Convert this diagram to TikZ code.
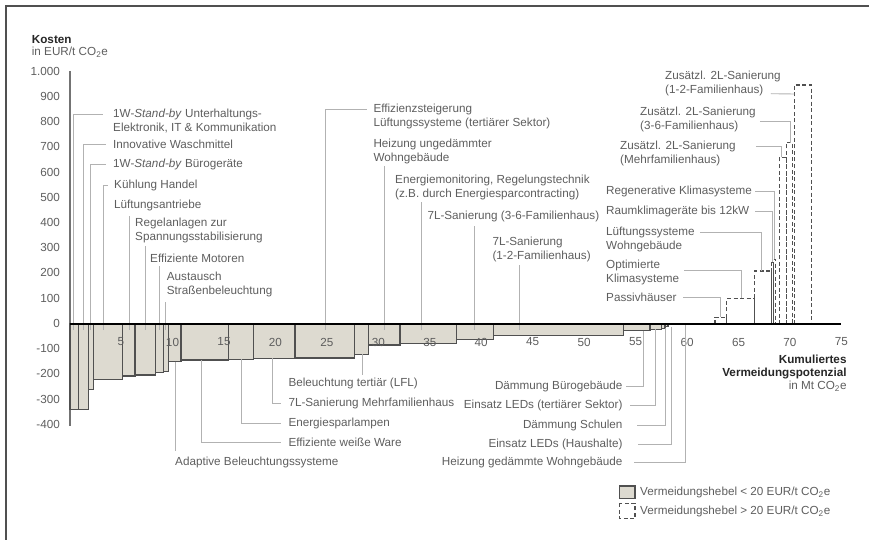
\documentclass[tikz,border=0pt]{standalone}
\usepackage{fontspec}
\setmainfont{Liberation Sans}
\usetikzlibrary{positioning}

\definecolor{barfill}{HTML}{DDDAD0}
\definecolor{labelgray}{HTML}{5E5E5E}
\definecolor{leadgray}{HTML}{B2B2B2}
\definecolor{edgegray}{HTML}{505050}

\tikzset{
  lbl/.style={inner sep=0pt, text=labelgray, font=\fontsize{11.7}{14}\selectfont, align=left},
  ticklbl/.style={inner sep=0pt, text=labelgray, font=\fontsize{11.7}{14}\selectfont},
  lead/.style={leadgray, line width=0.9pt},
  costbar/.style={draw=edgegray, line width=1.1pt, fill=barfill},
  dashbar/.style={draw=edgegray, line width=1.1pt, dash pattern=on 4pt off 2.5pt},
}

\begin{document}
\begin{tikzpicture}[x=1pt, y=-1pt]
\useasboundingbox (0,0) rectangle (869,540);
\draw[edgegray, line width=1.2pt] (6,540) -- (6,6) -- (869,6);

% Kostenachse
\node[lbl, anchor=west, font=\fontsize{11.7}{12.7}\selectfont] (yTitle) at (31.7,46.3) {\textcolor{black!85}{\textbf{Kosten}}\\in EUR/t CO\textsubscript{2}e};
\node[ticklbl, anchor=east] (yt1000) at (60,71) {1.000};
\node[ticklbl, anchor=east] (yt900) at (60,96.2) {900};
\node[ticklbl, anchor=east] (yt800) at (60,121.5) {800};
\node[ticklbl, anchor=east] (yt700) at (60,146.7) {700};
\node[ticklbl, anchor=east] (yt600) at (60,172) {600};
\node[ticklbl, anchor=east] (yt500) at (60,197.2) {500};
\node[ticklbl, anchor=east] (yt400) at (60,222.4) {400};
\node[ticklbl, anchor=east] (yt300) at (60,247.7) {300};
\node[ticklbl, anchor=east] (yt200) at (60,272.9) {200};
\node[ticklbl, anchor=east] (yt100) at (60,298.2) {100};
\node[ticklbl, anchor=east] (yt0) at (60,323.4) {0};
\node[ticklbl, anchor=east] (ytm100) at (60,348.6) {-100};
\node[ticklbl, anchor=east] (ytm200) at (60,373.9) {-200};
\node[ticklbl, anchor=east] (ytm300) at (60,399.1) {-300};
\node[ticklbl, anchor=east] (ytm400) at (60,424.4) {-400};
\draw[black!55, line width=1.6pt] (70,71) -- (70,426);

% Hebel < 20 EUR/t
\draw[costbar] (70,324) rectangle (78.3,409.3);
\draw[costbar] (78.3,324) rectangle (88.3,409.3);
\draw[costbar] (88.3,324) rectangle (93.3,389.3);
\draw[costbar] (93.3,324) rectangle (122.7,379.3);
\draw[costbar] (122.7,324) rectangle (135,376);
\draw[costbar] (135,324) rectangle (155.7,375);
\draw[costbar] (155.7,324) rectangle (163.3,372.7);
\draw[costbar] (163.3,324) rectangle (168.3,371.7);
\draw[costbar] (168.3,324) rectangle (181,361.7);
\draw[costbar] (181,324) rectangle (228.3,360);
\draw[costbar] (228.3,324) rectangle (253.3,359.3);
\draw[costbar] (253.3,324) rectangle (295,358.3);
\draw[costbar] (295,324) rectangle (354.3,358);
\draw[costbar] (354.3,324) rectangle (368.3,354.3);
\draw[costbar] (368.3,324) rectangle (400,345);
\draw[costbar] (400,324) rectangle (456.7,343.3);
\draw[costbar] (456.7,324) rectangle (493.3,339.3);
\draw[costbar] (493.3,324) rectangle (623.3,335.7);
\draw[costbar] (623.3,324) rectangle (650,330.5);
\draw[costbar] (650,324) rectangle (661.7,329.3);
\draw[costbar] (661.7,324) rectangle (665,328.3);
\draw[costbar] (665,324) rectangle (668,326.5);

% Hebel > 20 EUR/t
\draw[dashbar] (715,324) rectangle (726.7,317.3);
\draw[dashbar] (726.7,324) rectangle (754.3,298.3);
\draw[dashbar] (754.3,324) rectangle (771.7,271);
\draw[dashbar] (771.7,324) rectangle (773.3,262.3);
\draw[dashbar] (773.3,324) rectangle (775.7,259.3);
\draw[dashbar] (779.3,324) rectangle (786.7,157.3);
\draw[dashbar] (786.7,324) rectangle (792.7,142.7);
\draw[dashbar] (794.3,324) rectangle (811.7,85);

% Mengenachse
\node[ticklbl] (xt5) at (121,342) {5};
\node[ticklbl] (xt10) at (172.5,342) {10};
\node[ticklbl] (xt15) at (224,342) {15};
\node[ticklbl] (xt20) at (275.4,342) {20};
\node[ticklbl] (xt25) at (326.9,342) {25};
\node[ticklbl] (xt30) at (378.3,342) {30};
\node[ticklbl] (xt35) at (429.8,342) {35};
\node[ticklbl] (xt40) at (481.2,342) {40};
\node[ticklbl] (xt45) at (532.7,342) {45};
\node[ticklbl] (xt50) at (584.1,342) {50};
\node[ticklbl] (xt55) at (635.6,342) {55};
\node[ticklbl] (xt60) at (687,342) {60};
\node[ticklbl] (xt65) at (738.5,342) {65};
\node[ticklbl] (xt70) at (789.9,342) {70};
\node[ticklbl] (xt75) at (841.4,342) {75};
\node[lbl, anchor=east, align=right, font=\fontsize{11.7}{12.7}\selectfont] (xTitle) at (846.7,373.3) {\textcolor{black!85}{\textbf{Kumuliertes}}\\\textcolor{black!85}{\textbf{Vermeidungspotenzial}}\\in Mt CO\textsubscript{2}e};

% Beschriftungen oben links
\node[lbl, anchor=west] (lblStandbyUE) at (113,121.5) {1W-\textit{Stand-by} Unterhaltungs-\\Elektronik, IT \& Kommunikation};
\node[lbl, anchor=west] (lblWaschmittel) at (113,144.3) {Innovative Waschmittel};
\node[lbl, anchor=west] (lblStandbyBuero) at (113,164.3) {1W-\textit{Stand-by} Bürogeräte};
\node[lbl, anchor=west] (lblKuehlung) at (114,185) {Kühlung Handel};
\node[lbl, anchor=west] (lblLueftAntr) at (114,205) {Lüftungsantriebe};
\node[lbl, anchor=west] (lblRegelanl) at (135,230.8) {Regelanlagen zur\\Spannungsstabilisierung};
\node[lbl, anchor=west] (lblMotoren) at (150,258.3) {Effiziente Motoren};
\node[lbl, anchor=west] (lblStrasse) at (166.7,284.8) {Austausch\\Straßenbeleuchtung};
\coordinate (cStandbyUE) at (73.3,330);
\coordinate (cWaschmittel) at (83.3,330);
\coordinate (cStandbyBuero) at (90.7,330);
\coordinate (cKuehlung) at (103.3,330);
\coordinate (cLueftAntr) at (129.3,330);
\coordinate (cRegelanl) at (145.7,330);
\coordinate (cMotoren) at (159.3,330);
\coordinate (cStrasse) at (165.7,330);
\draw[lead] (cStandbyUE) |- ([xshift=-10pt,yshift=7pt]lblStandbyUE.west);
\draw[lead] (cWaschmittel) |- ([xshift=-7pt]lblWaschmittel.west);
\draw[lead] (cStandbyBuero) |- ([xshift=-7pt]lblStandbyBuero.west);
\draw[lead] (cKuehlung) |- ([xshift=-6pt]lblKuehlung.west);
\draw[lead, shorten >=5pt] (cLueftAntr) -- (cLueftAntr |- lblLueftAntr.south);
\draw[lead, shorten >=3pt] (cRegelanl) -- (cRegelanl |- lblRegelanl.south);
\draw[lead, shorten >=3pt] (cMotoren) -- (cMotoren |- lblMotoren.south);
\draw[lead, shorten >=5pt] (cStrasse) -- (cStrasse |- lblStrasse.south);

% Beschriftungen oben Mitte
\node[lbl, anchor=west] (lblEffLueft) at (373.3,116) {Effizienzsteigerung\\Lüftungssysteme (tertiärer Sektor)};
\node[lbl, anchor=west] (lblHeizUngedaemmt) at (373.3,151) {Heizung ungedämmter\\Wohngebäude};
\node[lbl, anchor=west] (lblMonitoring) at (395,187.7) {Energiemonitoring, Regelungstechnik\\(z.B. durch Energiesparcontracting)};
\node[lbl, anchor=west] (lblSan36) at (427.3,216) {7L-Sanierung (3-6-Familienhaus)};
\node[lbl, anchor=west] (lblSan12) at (492.3,249.2) {7L-Sanierung\\(1-2-Familienhaus)};
\coordinate (cEffLueft) at (325,330);
\coordinate (cHeizUngedaemmt) at (384,330);
\coordinate (cMonitoring) at (421.7,330);
\coordinate (cSan36) at (474.3,330);
\coordinate (cSan12) at (519,330);
\draw[lead] (cEffLueft) |- ([xshift=-6pt,yshift=7pt]lblEffLueft.west);
\draw[lead, shorten >=2pt] (cHeizUngedaemmt) -- (cHeizUngedaemmt |- lblHeizUngedaemmt.south);
\draw[lead, shorten >=2pt] (cMonitoring) -- (cMonitoring |- lblMonitoring.south);
\draw[lead, shorten >=4pt] (cSan36) -- (cSan36 |- lblSan36.south);
\draw[lead, shorten >=3pt] (cSan12) -- (cSan12 |- lblSan12.south);

% Beschriftungen unten
\node[lbl, anchor=west] (lblBelTert) at (288.3,383.3) {Beleuchtung tertiär (LFL)};
\node[lbl, anchor=west] (lblSanMFH) at (288.3,403.3) {7L-Sanierung Mehrfamilienhaus};
\node[lbl, anchor=west] (lblSparlampen) at (288.3,423.3) {Energiesparlampen};
\node[lbl, anchor=west] (lblWeisseWare) at (288.3,442.7) {Effiziente weiße Ware};
\node[lbl, anchor=west] (lblAdaptiv) at (175,462.7) {Adaptive Beleuchtungssysteme};
\coordinate (cBelTert) at (362.3,354.3);
\coordinate (cSanMFH) at (272.7,358.3);
\coordinate (cSparlampen) at (241.7,359.3);
\coordinate (cWeisseWare) at (201.7,360);
\coordinate (cAdaptiv) at (175,361.7);
\draw[lead, shorten >=3pt] (cBelTert) -- (cBelTert |- lblBelTert.north);
\draw[lead] (cSanMFH) |- ([xshift=-7pt]lblSanMFH.west);
\draw[lead] (cSparlampen) |- ([xshift=-7pt]lblSparlampen.west);
\draw[lead] (cWeisseWare) |- ([xshift=-7pt]lblWeisseWare.west);
\draw[lead, shorten >=6pt] (cAdaptiv) -- (cAdaptiv |- lblAdaptiv.north);

\node[lbl, anchor=east] (lblDaemmBuero) at (622.7,386.7) {Dämmung Bürogebäude};
\node[lbl, anchor=east] (lblLedTert) at (622.7,405.7) {Einsatz LEDs (tertiärer Sektor)};
\node[lbl, anchor=east] (lblDaemmSchule) at (622.7,425) {Dämmung Schulen};
\node[lbl, anchor=east] (lblLedHaus) at (622.7,444) {Einsatz LEDs (Haushalte)};
\node[lbl, anchor=east] (lblHeizGedaemmt) at (622.7,462.7) {Heizung gedämmte Wohngebäude};
\coordinate (cDaemmBuero) at (643.3,330.5);
\coordinate (cLedTert) at (655,329.3);
\coordinate (cDaemmSchule) at (665,328.3);
\coordinate (cLedHaus) at (671.7,326.5);
\coordinate (cHeizGedaemmt) at (685,324);
\draw[lead] (cDaemmBuero) |- ([xshift=3pt]lblDaemmBuero.east);
\draw[lead] (cLedTert) |- ([xshift=7pt]lblLedTert.east);
\draw[lead] (cDaemmSchule) |- ([xshift=14pt]lblDaemmSchule.east);
\draw[lead] (cLedHaus) |- ([xshift=15pt]lblLedHaus.east);
\draw[lead] (cHeizGedaemmt) |- ([xshift=11.7pt]lblHeizGedaemmt.east);

% Beschriftungen oben rechts
\node[lbl, anchor=west] (lblZus12) at (665,83.7) {Zusätzl. 2L-Sanierung\\(1-2-Familienhaus)};
\node[lbl, anchor=west] (lblZus36) at (640,119.2) {Zusätzl. 2L-Sanierung\\(3-6-Familienhaus)};
\node[lbl, anchor=west] (lblZusMFH) at (620,153.7) {Zusätzl. 2L-Sanierung\\(Mehrfamilienhaus)};
\node[lbl, anchor=west] (lblRegKlima) at (606,191.7) {Regenerative Klimasysteme};
\node[lbl, anchor=west] (lblRaumKlima) at (606,211.7) {Raumklimageräte bis 12kW};
\node[lbl, anchor=west] (lblLueftWohn) at (606,239.5) {Lüftungssysteme\\Wohngebäude};
\node[lbl, anchor=west] (lblOptKlima) at (606,272.2) {Optimierte\\Klimasysteme};
\node[lbl, anchor=west] (lblPassiv) at (606,297.3) {Passivhäuser};
\coordinate (cZus12) at (794.3,94);
\coordinate (cZus36) at (790.7,142.7);
\coordinate (cZusMFH) at (781.7,157.3);
\coordinate (cRegKlima) at (774.5,259.3);
\coordinate (cRaumKlima) at (772.5,262.3);
\coordinate (cLueftWohn) at (761.7,271);
\coordinate (cOptKlima) at (741.7,298.3);
\coordinate (cPassiv) at (720,317.3);
\draw[lead] ([xshift=-10pt,yshift=-10pt]lblZus12.east) -- (cZus12);
\draw[lead] ([xshift=4pt,yshift=-2.5pt]lblZus36.east) -| (cZus36);
\draw[lead] ([xshift=20pt,yshift=7pt]lblZusMFH.east) -| (cZusMFH);
\draw[lead] ([xshift=3pt]lblRegKlima.east) -| (cRegKlima);
\draw[lead] ([xshift=6pt]lblRaumKlima.east) -| (cRaumKlima);
\draw[lead] ([xshift=5pt,yshift=7pt]lblLueftWohn.east) -| (cLueftWohn);
\draw[lead] ([xshift=5pt,yshift=1.5pt]lblOptKlima.east) -| (cOptKlima);
\draw[lead] ([xshift=6.7pt]lblPassiv.east) -| (cPassiv);

\draw[black, line width=2pt] (70,324) -- (841,324);

% Legende
\draw[costbar] (619.3,486) rectangle (635,498.3);
\node[lbl, anchor=west] (legLow) at (640,492.3) {Vermeidungshebel < 20 EUR/t CO\textsubscript{2}e};
\draw[dashbar] (619.3,503.3) rectangle (635,518.3);
\node[lbl, anchor=west] (legHigh) at (640,511.7) {Vermeidungshebel > 20 EUR/t CO\textsubscript{2}e};

\end{tikzpicture}
\end{document}
